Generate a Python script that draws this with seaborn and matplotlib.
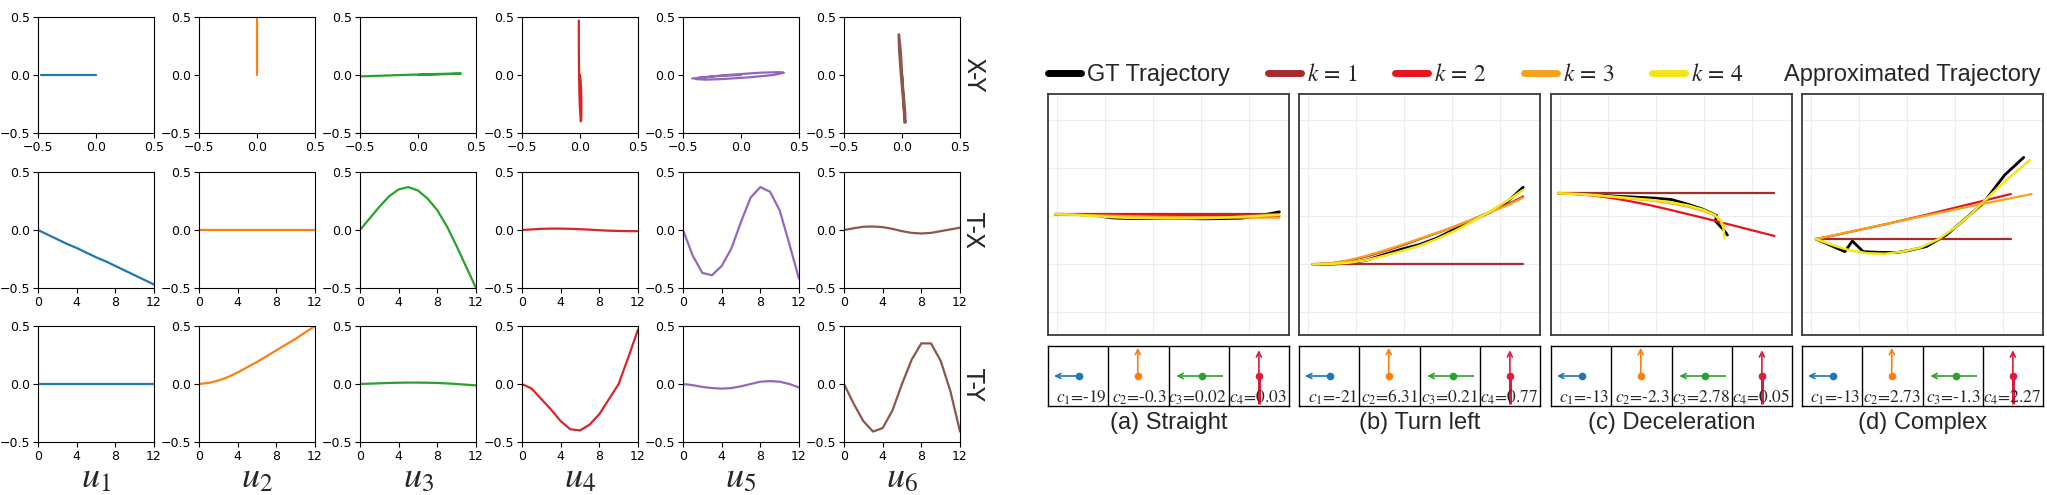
import matplotlib
matplotlib.use("Agg")
import matplotlib.pyplot as plt
import seaborn as sns
from matplotlib.lines import Line2D

sns.set_style("ticks")
plt.rcParams["font.family"] = ["DejaVu Sans"]
plt.rcParams["mathtext.fontset"] = "stix"
plt.rcParams["axes.unicode_minus"] = True

W, H = 2047, 495

# ---------------- basis functions u1..u6 (13 time steps) ----------------
T = [0, 1, 2, 3, 4, 5, 6, 7, 8, 9, 10, 11, 12]

U1_TX = [0.0, -0.04, -0.08, -0.12, -0.155, -0.195, -0.235, -0.27, -0.31, -0.35, -0.39, -0.43, -0.47]
U1_TY = [0.0, 0.0, 0.0, 0.0, 0.0, 0.0, 0.0, 0.0, 0.0, 0.0, 0.0, 0.0, 0.0]
U2_TX = [0.0, 0.0, 0.0, 0.0, 0.0, 0.0, 0.0, 0.0, 0.0, 0.0, 0.0, 0.0, 0.0]
U2_TY = [0.0, 0.01, 0.03, 0.06, 0.10, 0.145, 0.19, 0.24, 0.29, 0.34, 0.39, 0.445, 0.5]
U3_TX = [0.0, 0.1, 0.2, 0.29, 0.35, 0.37, 0.34, 0.27, 0.17, 0.03, -0.14, -0.32, -0.5]
U3_TY = [0.0, 0.003, 0.006, 0.009, 0.011, 0.012, 0.012, 0.011, 0.009, 0.005, 0.0, -0.006, -0.012]
U4_TX = [0.0, 0.005, 0.01, 0.012, 0.012, 0.01, 0.007, 0.003, -0.002, -0.006, -0.008, -0.01, -0.01]
U4_TY = [0.0, -0.04, -0.13, -0.22, -0.32, -0.39, -0.4, -0.35, -0.26, -0.13, 0.0, 0.23, 0.47]
U5_TX = [0.0, -0.22, -0.37, -0.39, -0.31, -0.16, 0.07, 0.28, 0.37, 0.33, 0.17, -0.12, -0.42]
U5_TY = [0.0, -0.01, -0.025, -0.035, -0.04, -0.035, -0.02, 0.0, 0.02, 0.025, 0.02, 0.0, -0.03]
U6_TX = [0.0, 0.015, 0.028, 0.03, 0.025, 0.01, -0.01, -0.025, -0.03, -0.025, -0.01, 0.005, 0.02]
U6_TY = [0.0, -0.17, -0.32, -0.41, -0.38, -0.23, 0.0, 0.21, 0.35, 0.35, 0.2, -0.06, -0.41]

BASIS_TX = [U1_TX, U2_TX, U3_TX, U4_TX, U5_TX, U6_TX]
BASIS_TY = [U1_TY, U2_TY, U3_TY, U4_TY, U5_TY, U6_TY]
BASIS_NAMES = ["$u_1$", "$u_2$", "$u_3$", "$u_4$", "$u_5$", "$u_6$"]
ROW_NAMES = ["X-Y", "T-X", "T-Y"]
XY_TICKS = [-0.5, 0.0, 0.5]
T_TICKS = [0, 4, 8, 12]

# ---------------- trajectory panels (coordinates in panel units 0..100) ----------------
A_X = [3.0, 10.8, 18.5, 26.3, 34.0, 41.8, 49.5, 57.3, 65.0, 72.8, 80.5, 88.3, 96.0]
A_GT = [50.1, 50.0, 49.8, 48.6, 48.3, 48.3, 48.4, 48.3, 48.2, 48.3, 48.5, 49.6, 51.1]
A_K1 = [50.1, 50.1, 50.1, 50.1, 50.1, 50.1, 50.1, 50.1, 50.1, 50.1, 50.1, 50.1, 50.1]
A_K2 = [50.1, 50.0, 49.95, 49.9, 49.85, 49.8, 49.75, 49.7, 49.65, 49.6, 49.55, 49.5, 49.45]
A_K3 = [50.1, 49.9, 49.7, 49.5, 49.3, 49.1, 49.0, 48.9, 48.8, 48.75, 48.7, 48.7, 48.7]
A_K4 = [50.1, 49.9, 49.4, 48.9, 48.6, 48.5, 48.4, 48.4, 48.5, 48.7, 49.1, 49.5, 49.9]

B_X = [5.7, 13.1, 20.4, 27.8, 35.1, 42.5, 49.9, 57.2, 64.6, 71.9, 79.3, 86.6, 93.0]
B_GT = [29.3, 29.4, 29.8, 31.0, 33.3, 35.6, 37.5, 40.2, 43.9, 47.5, 51.0, 55.4, 61.3]
B_K1 = [29.3, 29.3, 29.3, 29.3, 29.3, 29.3, 29.3, 29.3, 29.3, 29.3, 29.3, 29.3, 29.3]
B_K2 = [29.3, 29.7, 30.8, 32.5, 34.7, 37.1, 39.7, 42.3, 45.0, 47.9, 51.0, 54.2, 57.5]
B_K3 = [29.3, 29.8, 31.0, 32.8, 35.0, 37.4, 39.9, 42.4, 45.0, 47.9, 50.9, 53.9, 57.0]
B_K4 = [29.3, 29.5, 30.0, 31.0, 32.8, 34.8, 37.0, 39.8, 43.2, 47.0, 51.3, 55.8, 60.2]

C_X = [3.0, 10.5, 18.0, 25.4, 32.9, 40.4, 47.9, 55.3, 62.8, 70.3, 77.8, 85.2, 92.7]
C_K1 = [58.8, 58.8, 58.8, 58.8, 58.8, 58.8, 58.8, 58.8, 58.8, 58.8, 58.8, 58.8, 58.8]
C_K2 = [58.8, 58.5, 57.8, 56.8, 55.5, 54.0, 52.3, 50.5, 48.7, 46.8, 44.9, 43.0, 41.1]
C_GT_X = [3.0, 11.0, 19.0, 27.0, 35.0, 43.0, 50.0, 57.0, 63.0, 68.7, 68.2, 70.8, 72.2, 73.2]
C_GT = [58.8, 58.6, 58.2, 57.6, 57.2, 56.8, 56.2, 54.2, 52.2, 49.6, 47.3, 44.5, 42.9, 41.5]
C_K3_X = [3.0, 11.0, 19.0, 27.0, 35.0, 43.0, 50.0, 57.0, 63.0, 68.0, 70.8, 72.0]
C_K3 = [58.8, 58.4, 57.9, 57.2, 56.4, 55.6, 54.6, 53.2, 51.6, 49.6, 47.0, 44.5]
C_K4_X = [3.0, 11.0, 19.0, 27.0, 35.0, 43.0, 50.0, 57.0, 63.0, 68.0, 70.5, 71.5, 72.0]
C_K4 = [58.8, 58.5, 58.0, 57.3, 56.6, 55.9, 55.0, 53.7, 52.0, 49.8, 47.5, 44.5, 40.2]

D_GT_X = [5.8, 11.6, 17.8, 20.9, 25.4, 32.0, 39.2, 45.0, 51.6, 59.9, 67.5, 75.1, 84.1, 92.0]
D_GT = [39.8, 37.3, 34.6, 39.0, 34.6, 34.3, 34.2, 35.2, 36.7, 41.5, 48.0, 54.6, 66.4, 73.7]
D_K12_X = [5.8, 13.2, 20.5, 27.9, 35.2, 42.6, 49.9, 57.3, 64.6, 72.0, 79.3, 86.7]
D_K1 = [39.8, 39.8, 39.8, 39.8, 39.8, 39.8, 39.8, 39.8, 39.8, 39.8, 39.8, 39.8]
D_K2 = [39.8, 41.3, 42.9, 44.5, 46.1, 47.8, 49.5, 51.3, 53.1, 54.9, 56.7, 58.5]
D_K3_X = [5.8, 13.3, 20.7, 28.2, 35.7, 43.1, 50.6, 58.0, 65.5, 73.0, 80.4, 87.9, 95.3]
D_K3 = [39.8, 41.4, 43.0, 44.6, 46.2, 47.8, 49.4, 50.9, 52.5, 54.0, 55.5, 57.0, 58.5]
D_K4_X = [5.8, 13.0, 20.2, 27.3, 34.5, 41.7, 48.9, 56.1, 63.3, 70.4, 77.6, 84.8, 94.6]
D_K4 = [39.8, 37.2, 35.0, 33.9, 33.7, 34.6, 36.2, 39.5, 44.4, 50.4, 57.5, 64.3, 72.6]

PANELS = [
    {"gt": (A_X, A_GT), "k": [(A_X, A_K1), (A_X, A_K2), (A_X, A_K3), (A_X, A_K4)]},
    {"gt": (B_X, B_GT), "k": [(B_X, B_K1), (B_X, B_K2), (B_X, B_K3), (B_X, B_K4)]},
    {"gt": (C_GT_X, C_GT), "k": [(C_X, C_K1), (C_X, C_K2), (C_K3_X, C_K3), (C_K4_X, C_K4)]},
    {"gt": (D_GT_X, D_GT), "k": [(D_K12_X, D_K1), (D_K12_X, D_K2), (D_K3_X, D_K3), (D_K4_X, D_K4)]},
]
CAPTIONS = ["(a) Straight", "(b) Turn left", "(c) Deceleration", "(d) Complex"]
COEFFS = [["-19", "-0.3", "0.02", "0.03"],
          ["-21", "6.31", "0.21", "0.77"],
          ["-13", "-2.3", "2.78", "0.05"],
          ["-13", "2.73", "-1.3", "2.27"]]
LEGEND_LABELS = ["GT Trajectory", r"$k\,=\,1$", r"$k\,=\,2$", r"$k\,=\,3$", r"$k\,=\,4$"]

# ---------------- styles ----------------
BASIS_COLORS = ["#1f77b4", "#ff7f0e", "#2ca02c", "#d62728", "#9467bd", "#8c564b"]
K_COLORS = ["#a62b2b", "#e8141c", "#f7a21b", "#f3e619"]
GT_COLOR = "black"
ARROW_COLORS = ["#1f77b4", "#ff7f0e", "#2ca02c", "#dc1c3c"]
# arrow glyphs in cell units: (tail, dot, head)
ARROW_GLYPHS = [((0.52, 0.5), (0.52, 0.5), (0.10, 0.5)),
                ((0.49, 0.5), (0.49, 0.5), (0.49, 0.97)),
                ((0.91, 0.5), (0.56, 0.5), (0.13, 0.5)),
                ((0.50, 0.04), (0.50, 0.5), (0.50, 0.93))]

fig = plt.figure(figsize=(W / 100, H / 100), dpi=100)


def add_axes_px(left, top, width, height):
    return fig.add_axes([left / W, 1 - (top + height) / H, width / W, height / H])


# ---------------- left grid ----------------
lefts = [38, 199, 360, 522, 683, 844]
tops = [17, 172, 326]
aw = 116
for i in range(6):
    for r in range(3):
        ax = add_axes_px(lefts[i], tops[r], aw, 116)
        if r == 0:
            sns.lineplot(x=BASIS_TX[i], y=BASIS_TY[i], sort=False, estimator=None,
                         color=BASIS_COLORS[i], lw=1.6, ax=ax)
            ax.set_xlim(-0.5, 0.5)
            ax.set_xticks(XY_TICKS)
        else:
            yy = BASIS_TX[i] if r == 1 else BASIS_TY[i]
            sns.lineplot(x=T, y=yy, sort=False, estimator=None,
                         color=BASIS_COLORS[i], lw=1.6, ax=ax)
            ax.set_xlim(0, 12)
            ax.set_xticks(T_TICKS)
        ax.set_ylim(-0.5, 0.5)
        ax.set_yticks(XY_TICKS)
        ax.tick_params(labelsize=9, length=3.5, width=0.8, pad=2, colors="black")
        for s in ax.spines.values():
            s.set_visible(True)
            s.set_linewidth(0.8)
            s.set_color("black")
        ax.set_xlabel("")
        ax.set_ylabel("")
        if r == 2:
            fig.text((lefts[i] + aw / 2) / W, 1 - 477 / H, BASIS_NAMES[i],
                     ha="center", va="center", fontsize=26)
for r in range(3):
    fig.text(973 / W, 1 - (tops[r] + 58) / H, ROW_NAMES[r], rotation=270,
             ha="center", va="center", fontsize=17)

# ---------------- right trajectory panels ----------------
plefts = [1048, 1299, 1551, 1802]
pw = 241
GRID_X = [3.6, 23.6, 43.6, 63.6, 83.6]
GRID_Y = [9.4, 29.4, 49.4, 69.4, 89.4]
for p in range(4):
    ax = add_axes_px(plefts[p], 94, pw, 241)
    ax.set_xlim(0, 100)
    ax.set_ylim(0, 100)
    ax.set_xticks(GRID_X)
    ax.set_yticks(GRID_Y)
    ax.tick_params(length=0, labelbottom=False, labelleft=False)
    ax.grid(True, color="#ededed", lw=0.8)
    ax.set_axisbelow(True)
    for s in ax.spines.values():
        s.set_visible(True)
        s.set_color("#3a3a3a")
        s.set_linewidth(1.3)
    gx, gy = PANELS[p]["gt"]
    sns.lineplot(x=gx, y=gy, sort=False, estimator=None, color=GT_COLOR, lw=2.0, ax=ax)
    for k in range(4):
        kx, ky = PANELS[p]["k"][k]
        sns.lineplot(x=kx, y=ky, sort=False, estimator=None, color=K_COLORS[k],
                     lw=1.6 if k < 3 else 1.8, ax=ax)
    ax.set_xlabel("")
    ax.set_ylabel("")

    # coefficient box
    cb = add_axes_px(plefts[p], 346, pw, 60)
    cb.set_xlim(0, 4)
    cb.set_ylim(0, 1)
    cb.set_xticks([])
    cb.set_yticks([])
    for s in cb.spines.values():
        s.set_visible(True)
        s.set_color("black")
        s.set_linewidth(1.0)
    for j in range(1, 4):
        cb.axvline(j, color="black", lw=1.0)
    for j in range(4):
        (tx, ty), (dx, dy), (hx, hy) = ARROW_GLYPHS[j]
        col = ARROW_COLORS[j]
        if (tx, ty) != (dx, dy):
            cb.plot([j + tx, j + dx], [ty, dy], color=col,
                    lw=2.2 if j == 3 else 1.2, solid_capstyle="butt")
        cb.annotate("", xy=(j + hx, hy), xytext=(j + dx, dy),
                    arrowprops=dict(arrowstyle="->", color=col, lw=1.2,
                                    shrinkA=0, shrinkB=0, mutation_scale=9))
        cb.plot([j + dx], [dy], "o", color=col, ms=4.5)
        cb.text(j + 0.97, 0.05, "$c_{%d}$=%s" % (j + 1, COEFFS[p][j]),
                ha="right", va="baseline", fontsize=12.5, family="STIXGeneral")

    fig.text((plefts[p] + pw / 2) / W, 1 - 423 / H, CAPTIONS[p], ha="center",
             va="center", fontsize=17, family="Liberation Sans")

# ---------------- legend ----------------
handles = [Line2D([], [], color=GT_COLOR, lw=5)] + \
          [Line2D([], [], color=c, lw=5) for c in K_COLORS]
fig.legend(handles, LEGEND_LABELS, loc="center left",
           bbox_to_anchor=(1048 / W, 1 - 75 / H), ncol=5, frameon=False,
           handlelength=1.4, handletextpad=0.25, columnspacing=1.6,
           borderpad=0, borderaxespad=0,
           prop={"family": "Liberation Sans", "size": 17})
fig.text(1784 / W, 1 - 75 / H, "Approximated Trajectory", ha="left", va="center",
         fontsize=17, family="Liberation Sans")

fig.savefig("out.png", dpi=100)
